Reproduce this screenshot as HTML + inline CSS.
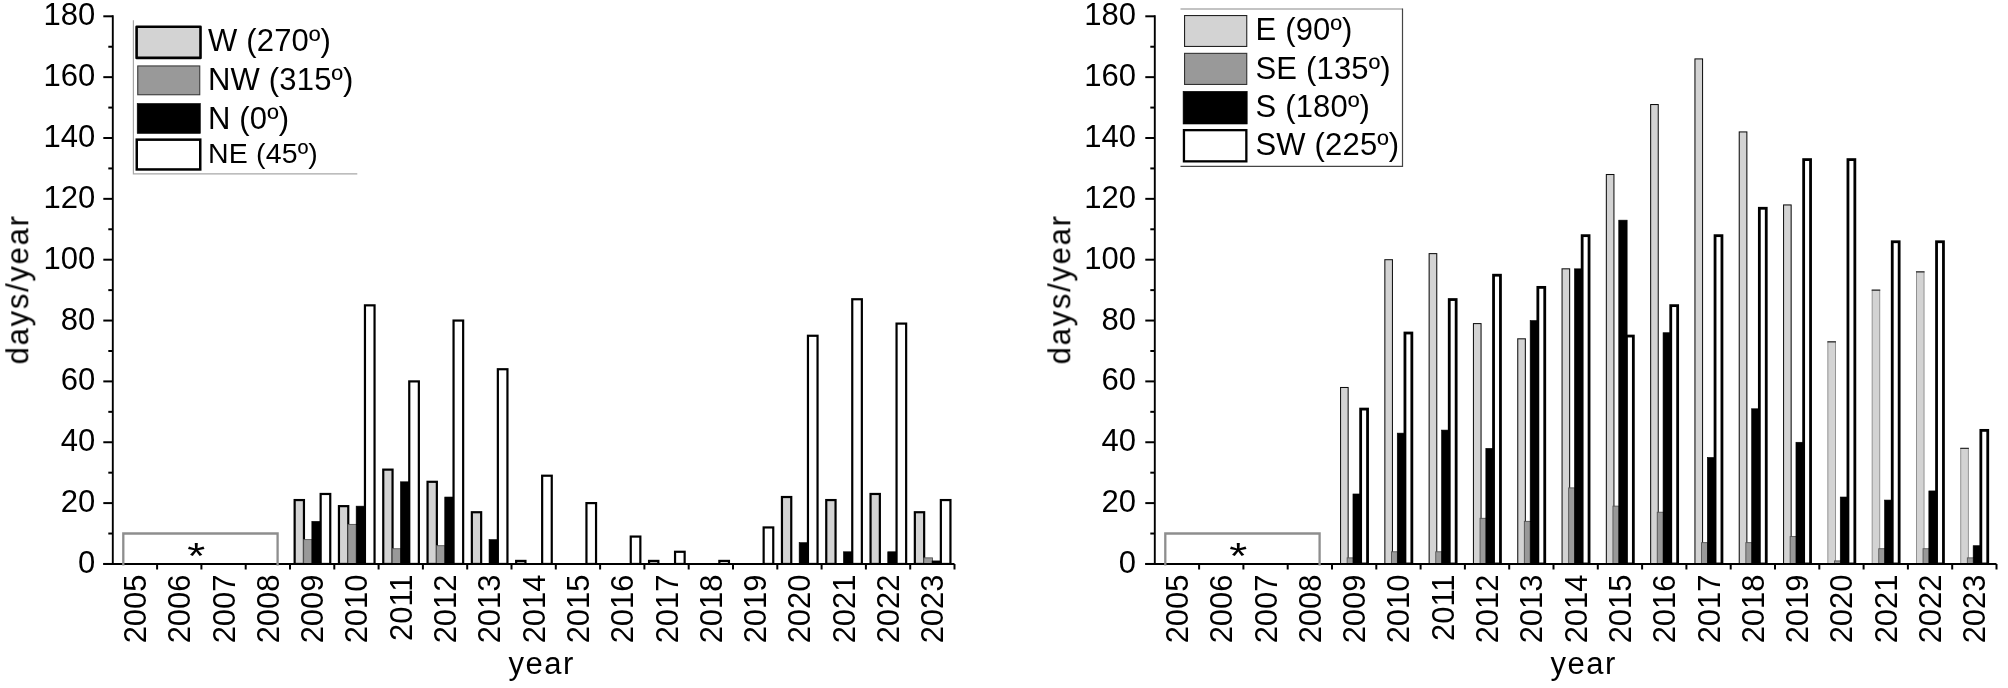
<!DOCTYPE html>
<html lang="en">
<head>
<meta charset="utf-8">
<title>days/year by wind direction</title>
<style>
html,body{margin:0;padding:0;background:#fff;}
body{width:2008px;height:688px;overflow:hidden;}
svg{display:block;}
svg text{font-family:"Liberation Sans", Arial, sans-serif;fill:#000;}
</style>
</head>
<body>
<svg width="2008" height="688" viewBox="0 0 2008 688">
<defs><filter id="soft" x="0" y="0" width="2008" height="688" filterUnits="userSpaceOnUse"><feGaussianBlur stdDeviation="0.35"/></filter><clipPath id="plot"><rect x="0" y="0" width="2008" height="564.85"/></clipPath></defs>
<rect width="2008" height="688" fill="#fff"/>
<g filter="url(#soft)">
<g clip-path="url(#plot)">
<rect x="294.65" y="500.06" width="9.30" height="63.89" fill="#d3d3d3" stroke="#000" stroke-width="2.2"/>
<rect x="303.65" y="539.61" width="8.70" height="24.34" fill="#999999" stroke="#555" stroke-width="0.9"/>
<rect x="311.85" y="521.36" width="9.40" height="42.59" fill="#000" stroke="#000" stroke-width="0.6"/>
<rect x="320.65" y="493.97" width="9.60" height="69.98" fill="#fff" stroke="#000" stroke-width="2.2"/>
<rect x="338.95" y="506.14" width="9.30" height="57.81" fill="#d3d3d3" stroke="#000" stroke-width="2.2"/>
<rect x="347.95" y="524.40" width="8.70" height="39.55" fill="#999999" stroke="#555" stroke-width="0.9"/>
<rect x="356.15" y="506.14" width="9.40" height="57.81" fill="#000" stroke="#000" stroke-width="0.6"/>
<rect x="364.95" y="305.34" width="9.60" height="258.61" fill="#fff" stroke="#000" stroke-width="2.2"/>
<rect x="383.25" y="469.63" width="9.30" height="94.32" fill="#d3d3d3" stroke="#000" stroke-width="2.2"/>
<rect x="392.25" y="548.74" width="8.70" height="15.21" fill="#999999" stroke="#555" stroke-width="0.9"/>
<rect x="400.45" y="481.80" width="9.40" height="82.15" fill="#000" stroke="#000" stroke-width="0.6"/>
<rect x="409.25" y="381.40" width="9.60" height="182.55" fill="#fff" stroke="#000" stroke-width="2.2"/>
<rect x="427.55" y="481.80" width="9.30" height="82.15" fill="#d3d3d3" stroke="#000" stroke-width="2.2"/>
<rect x="436.55" y="545.70" width="8.70" height="18.25" fill="#999999" stroke="#555" stroke-width="0.9"/>
<rect x="444.75" y="497.02" width="9.40" height="66.94" fill="#000" stroke="#000" stroke-width="0.6"/>
<rect x="453.55" y="320.55" width="9.60" height="243.40" fill="#fff" stroke="#000" stroke-width="2.2"/>
<rect x="471.85" y="512.23" width="9.30" height="51.72" fill="#d3d3d3" stroke="#000" stroke-width="2.2"/>
<rect x="489.05" y="539.61" width="9.40" height="24.34" fill="#000" stroke="#000" stroke-width="0.6"/>
<rect x="497.85" y="369.23" width="9.60" height="194.72" fill="#fff" stroke="#000" stroke-width="2.2"/>
<rect x="516.15" y="560.91" width="9.30" height="3.04" fill="#d3d3d3" stroke="#000" stroke-width="2.2"/>
<rect x="542.15" y="475.72" width="9.60" height="88.23" fill="#fff" stroke="#000" stroke-width="2.2"/>
<rect x="586.45" y="503.10" width="9.60" height="60.85" fill="#fff" stroke="#000" stroke-width="2.2"/>
<rect x="630.75" y="536.57" width="9.60" height="27.38" fill="#fff" stroke="#000" stroke-width="2.2"/>
<rect x="649.05" y="560.91" width="9.30" height="3.04" fill="#d3d3d3" stroke="#000" stroke-width="2.2"/>
<rect x="675.05" y="551.78" width="9.60" height="12.17" fill="#fff" stroke="#000" stroke-width="2.2"/>
<rect x="719.35" y="560.91" width="9.60" height="3.04" fill="#fff" stroke="#000" stroke-width="2.2"/>
<rect x="763.65" y="527.44" width="9.60" height="36.51" fill="#fff" stroke="#000" stroke-width="2.2"/>
<rect x="781.95" y="497.02" width="9.30" height="66.94" fill="#d3d3d3" stroke="#000" stroke-width="2.2"/>
<rect x="799.15" y="542.65" width="9.40" height="21.30" fill="#000" stroke="#000" stroke-width="0.6"/>
<rect x="807.95" y="335.76" width="9.60" height="228.19" fill="#fff" stroke="#000" stroke-width="2.2"/>
<rect x="826.25" y="500.06" width="9.30" height="63.89" fill="#d3d3d3" stroke="#000" stroke-width="2.2"/>
<rect x="843.45" y="551.78" width="9.40" height="12.17" fill="#000" stroke="#000" stroke-width="0.6"/>
<rect x="852.25" y="299.25" width="9.60" height="264.70" fill="#fff" stroke="#000" stroke-width="2.2"/>
<rect x="870.55" y="493.97" width="9.30" height="69.98" fill="#d3d3d3" stroke="#000" stroke-width="2.2"/>
<rect x="887.75" y="551.78" width="9.40" height="12.17" fill="#000" stroke="#000" stroke-width="0.6"/>
<rect x="896.55" y="323.59" width="9.60" height="240.36" fill="#fff" stroke="#000" stroke-width="2.2"/>
<rect x="914.85" y="512.23" width="9.30" height="51.72" fill="#d3d3d3" stroke="#000" stroke-width="2.2"/>
<rect x="923.85" y="557.87" width="8.70" height="6.08" fill="#999999" stroke="#555" stroke-width="0.9"/>
<rect x="932.05" y="560.91" width="9.40" height="3.04" fill="#000" stroke="#000" stroke-width="0.6"/>
<rect x="940.85" y="500.06" width="9.60" height="63.89" fill="#fff" stroke="#000" stroke-width="2.2"/>
</g>
<text transform="translate(196.2 569.0) scale(1.1 0.9)" font-size="42" text-anchor="middle">*</text>
<path d="M112.8 15.3V564.0" stroke="#000" stroke-width="1.9" fill="none"/>
<path d="M103.3 564.0H954.5" stroke="#000" stroke-width="2" fill="none"/>
<path d="M123.3 565.6V533.5H277.6V565.6" fill="none" stroke="#8e8e8e" stroke-width="2.3"/>
<path d="M103.3 563.95H112.8" stroke="#000" stroke-width="2"/>
<text x="95.3" y="573.00" font-size="31" text-anchor="end">0</text>
<path d="M108.3 533.53H112.8" stroke="#000" stroke-width="2"/>
<path d="M103.3 503.10H112.8" stroke="#000" stroke-width="2"/>
<text x="95.3" y="512.15" font-size="31" text-anchor="end">20</text>
<path d="M108.3 472.68H112.8" stroke="#000" stroke-width="2"/>
<path d="M103.3 442.25H112.8" stroke="#000" stroke-width="2"/>
<text x="95.3" y="451.30" font-size="31" text-anchor="end">40</text>
<path d="M108.3 411.83H112.8" stroke="#000" stroke-width="2"/>
<path d="M103.3 381.40H112.8" stroke="#000" stroke-width="2"/>
<text x="95.3" y="390.45" font-size="31" text-anchor="end">60</text>
<path d="M108.3 350.98H112.8" stroke="#000" stroke-width="2"/>
<path d="M103.3 320.55H112.8" stroke="#000" stroke-width="2"/>
<text x="95.3" y="329.60" font-size="31" text-anchor="end">80</text>
<path d="M108.3 290.13H112.8" stroke="#000" stroke-width="2"/>
<path d="M103.3 259.70H112.8" stroke="#000" stroke-width="2"/>
<text x="95.3" y="268.75" font-size="31" text-anchor="end">100</text>
<path d="M108.3 229.28H112.8" stroke="#000" stroke-width="2"/>
<path d="M103.3 198.85H112.8" stroke="#000" stroke-width="2"/>
<text x="95.3" y="207.90" font-size="31" text-anchor="end">120</text>
<path d="M108.3 168.43H112.8" stroke="#000" stroke-width="2"/>
<path d="M103.3 138.00H112.8" stroke="#000" stroke-width="2"/>
<text x="95.3" y="147.05" font-size="31" text-anchor="end">140</text>
<path d="M108.3 107.58H112.8" stroke="#000" stroke-width="2"/>
<path d="M103.3 77.15H112.8" stroke="#000" stroke-width="2"/>
<text x="95.3" y="86.20" font-size="31" text-anchor="end">160</text>
<path d="M108.3 46.73H112.8" stroke="#000" stroke-width="2"/>
<path d="M103.3 16.30H112.8" stroke="#000" stroke-width="2"/>
<text x="95.3" y="25.35" font-size="31" text-anchor="end">180</text>
<path d="M157.10 564.0V569.5" stroke="#000" stroke-width="2"/>
<path d="M201.40 564.0V569.5" stroke="#000" stroke-width="2"/>
<path d="M245.70 564.0V569.5" stroke="#000" stroke-width="2"/>
<path d="M290.00 564.0V569.5" stroke="#000" stroke-width="2"/>
<path d="M334.30 564.0V569.5" stroke="#000" stroke-width="2"/>
<path d="M378.60 564.0V569.5" stroke="#000" stroke-width="2"/>
<path d="M422.90 564.0V569.5" stroke="#000" stroke-width="2"/>
<path d="M467.20 564.0V569.5" stroke="#000" stroke-width="2"/>
<path d="M511.50 564.0V569.5" stroke="#000" stroke-width="2"/>
<path d="M555.80 564.0V569.5" stroke="#000" stroke-width="2"/>
<path d="M600.10 564.0V569.5" stroke="#000" stroke-width="2"/>
<path d="M644.40 564.0V569.5" stroke="#000" stroke-width="2"/>
<path d="M688.70 564.0V569.5" stroke="#000" stroke-width="2"/>
<path d="M733.00 564.0V569.5" stroke="#000" stroke-width="2"/>
<path d="M777.30 564.0V569.5" stroke="#000" stroke-width="2"/>
<path d="M821.60 564.0V569.5" stroke="#000" stroke-width="2"/>
<path d="M865.90 564.0V569.5" stroke="#000" stroke-width="2"/>
<path d="M910.20 564.0V569.5" stroke="#000" stroke-width="2"/>
<path d="M954.50 564.0V569.5" stroke="#000" stroke-width="2"/>
<text transform="translate(145.95 574.4) rotate(-90)" font-size="31" text-anchor="end">2005</text>
<text transform="translate(190.25 574.4) rotate(-90)" font-size="31" text-anchor="end">2006</text>
<text transform="translate(234.55 574.4) rotate(-90)" font-size="31" text-anchor="end">2007</text>
<text transform="translate(278.85 574.4) rotate(-90)" font-size="31" text-anchor="end">2008</text>
<text transform="translate(323.15 574.4) rotate(-90)" font-size="31" text-anchor="end">2009</text>
<text transform="translate(367.45 574.4) rotate(-90)" font-size="31" text-anchor="end">2010</text>
<text transform="translate(411.75 574.4) rotate(-90)" font-size="31" text-anchor="end">2011</text>
<text transform="translate(456.05 574.4) rotate(-90)" font-size="31" text-anchor="end">2012</text>
<text transform="translate(500.35 574.4) rotate(-90)" font-size="31" text-anchor="end">2013</text>
<text transform="translate(544.65 574.4) rotate(-90)" font-size="31" text-anchor="end">2014</text>
<text transform="translate(588.95 574.4) rotate(-90)" font-size="31" text-anchor="end">2015</text>
<text transform="translate(633.25 574.4) rotate(-90)" font-size="31" text-anchor="end">2016</text>
<text transform="translate(677.55 574.4) rotate(-90)" font-size="31" text-anchor="end">2017</text>
<text transform="translate(721.85 574.4) rotate(-90)" font-size="31" text-anchor="end">2018</text>
<text transform="translate(766.15 574.4) rotate(-90)" font-size="31" text-anchor="end">2019</text>
<text transform="translate(810.45 574.4) rotate(-90)" font-size="31" text-anchor="end">2020</text>
<text transform="translate(854.75 574.4) rotate(-90)" font-size="31" text-anchor="end">2021</text>
<text transform="translate(899.05 574.4) rotate(-90)" font-size="31" text-anchor="end">2022</text>
<text transform="translate(943.35 574.4) rotate(-90)" font-size="31" text-anchor="end">2023</text>
<text transform="translate(28.3 289.4) rotate(-90)" font-size="31" text-anchor="middle" letter-spacing="1.76">days/year</text>
<text x="541.6" y="674" font-size="31" text-anchor="middle" letter-spacing="1.5">year</text>
<path d="M133.4 20.3V173.8H357.3" fill="none" stroke="#a8a8a8" stroke-width="1.2"/>
<rect x="136.60" y="26.70" width="63.90" height="31.20" fill="#d3d3d3" stroke="#000" stroke-width="2.6" stroke-linejoin="round"/>
<text x="208" y="50.6" font-size="31" letter-spacing="0.18">W (270º)</text>
<rect x="137.75" y="65.95" width="62.00" height="28.80" fill="#999999" stroke="#3a3a3a" stroke-width="1.1" stroke-linejoin="miter"/>
<text x="208" y="89.5" font-size="31" letter-spacing="0.18">NW (315º)</text>
<rect x="137.20" y="103.50" width="63.10" height="29.90" fill="#000" stroke="#000" stroke-width="0.6" stroke-linejoin="miter"/>
<text x="208" y="128.6" font-size="31" letter-spacing="0.18">N (0º)</text>
<rect x="136.75" y="139.65" width="63.50" height="29.80" fill="#fff" stroke="#000" stroke-width="2.5" stroke-linejoin="miter"/>
<text x="208" y="163.2" font-size="28.5" letter-spacing="0.18">NE (45º)</text>
<g clip-path="url(#plot)">
<rect x="1340.55" y="387.49" width="7.60" height="176.47" fill="#d3d3d3" stroke="#111" stroke-width="1.05"/>
<rect x="1347.15" y="557.87" width="6.50" height="6.08" fill="#999999" stroke="#555" stroke-width="0.9"/>
<rect x="1352.95" y="493.97" width="8.40" height="69.98" fill="#000" stroke="#000" stroke-width="0.6"/>
<rect x="1360.65" y="409.08" width="6.90" height="154.87" fill="#fff" stroke="#000" stroke-width="2.8"/>
<rect x="1384.85" y="259.70" width="7.60" height="304.25" fill="#d3d3d3" stroke="#111" stroke-width="1.05"/>
<rect x="1391.45" y="551.78" width="6.50" height="12.17" fill="#999999" stroke="#555" stroke-width="0.9"/>
<rect x="1397.25" y="433.12" width="8.40" height="130.83" fill="#000" stroke="#000" stroke-width="0.6"/>
<rect x="1404.95" y="333.02" width="6.90" height="230.93" fill="#fff" stroke="#000" stroke-width="2.8"/>
<rect x="1429.15" y="253.62" width="7.60" height="310.33" fill="#d3d3d3" stroke="#111" stroke-width="1.05"/>
<rect x="1435.75" y="551.78" width="6.50" height="12.17" fill="#999999" stroke="#555" stroke-width="0.9"/>
<rect x="1441.55" y="430.08" width="8.40" height="133.87" fill="#000" stroke="#000" stroke-width="0.6"/>
<rect x="1449.25" y="299.55" width="6.90" height="264.40" fill="#fff" stroke="#000" stroke-width="2.8"/>
<rect x="1473.45" y="323.59" width="7.60" height="240.36" fill="#d3d3d3" stroke="#111" stroke-width="1.05"/>
<rect x="1480.05" y="518.31" width="6.50" height="45.64" fill="#999999" stroke="#555" stroke-width="0.9"/>
<rect x="1485.85" y="448.34" width="8.40" height="115.61" fill="#000" stroke="#000" stroke-width="0.6"/>
<rect x="1493.55" y="275.21" width="6.90" height="288.74" fill="#fff" stroke="#000" stroke-width="2.8"/>
<rect x="1517.75" y="338.81" width="7.60" height="225.15" fill="#d3d3d3" stroke="#111" stroke-width="1.05"/>
<rect x="1524.35" y="521.36" width="6.50" height="42.59" fill="#999999" stroke="#555" stroke-width="0.9"/>
<rect x="1530.15" y="320.55" width="8.40" height="243.40" fill="#000" stroke="#000" stroke-width="0.6"/>
<rect x="1537.85" y="287.38" width="6.90" height="276.57" fill="#fff" stroke="#000" stroke-width="2.8"/>
<rect x="1562.05" y="268.83" width="7.60" height="295.12" fill="#d3d3d3" stroke="#111" stroke-width="1.05"/>
<rect x="1568.65" y="487.89" width="6.50" height="76.06" fill="#999999" stroke="#555" stroke-width="0.9"/>
<rect x="1574.45" y="268.83" width="8.40" height="295.12" fill="#000" stroke="#000" stroke-width="0.6"/>
<rect x="1582.15" y="235.66" width="6.90" height="328.29" fill="#fff" stroke="#000" stroke-width="2.8"/>
<rect x="1606.35" y="174.51" width="7.60" height="389.44" fill="#d3d3d3" stroke="#111" stroke-width="1.05"/>
<rect x="1612.95" y="506.14" width="6.50" height="57.81" fill="#999999" stroke="#555" stroke-width="0.9"/>
<rect x="1618.75" y="220.15" width="8.40" height="343.80" fill="#000" stroke="#000" stroke-width="0.6"/>
<rect x="1626.45" y="336.06" width="6.90" height="227.89" fill="#fff" stroke="#000" stroke-width="2.8"/>
<rect x="1650.65" y="104.53" width="7.60" height="459.42" fill="#d3d3d3" stroke="#111" stroke-width="1.05"/>
<rect x="1657.25" y="512.23" width="6.50" height="51.72" fill="#999999" stroke="#555" stroke-width="0.9"/>
<rect x="1663.05" y="332.72" width="8.40" height="231.23" fill="#000" stroke="#000" stroke-width="0.6"/>
<rect x="1670.75" y="305.64" width="6.90" height="258.31" fill="#fff" stroke="#000" stroke-width="2.8"/>
<rect x="1694.95" y="58.90" width="7.60" height="505.06" fill="#d3d3d3" stroke="#111" stroke-width="1.05"/>
<rect x="1701.55" y="542.65" width="6.50" height="21.30" fill="#999999" stroke="#555" stroke-width="0.9"/>
<rect x="1707.35" y="457.46" width="8.40" height="106.49" fill="#000" stroke="#000" stroke-width="0.6"/>
<rect x="1715.05" y="235.66" width="6.90" height="328.29" fill="#fff" stroke="#000" stroke-width="2.8"/>
<rect x="1739.25" y="131.92" width="7.60" height="432.04" fill="#d3d3d3" stroke="#111" stroke-width="1.05"/>
<rect x="1745.85" y="542.65" width="6.50" height="21.30" fill="#999999" stroke="#555" stroke-width="0.9"/>
<rect x="1751.65" y="408.78" width="8.40" height="155.17" fill="#000" stroke="#000" stroke-width="0.6"/>
<rect x="1759.35" y="208.28" width="6.90" height="355.67" fill="#fff" stroke="#000" stroke-width="2.8"/>
<rect x="1783.55" y="204.94" width="7.60" height="359.01" fill="#d3d3d3" stroke="#111" stroke-width="1.05"/>
<rect x="1790.15" y="536.57" width="6.50" height="27.38" fill="#999999" stroke="#555" stroke-width="0.9"/>
<rect x="1795.95" y="442.25" width="8.40" height="121.70" fill="#000" stroke="#000" stroke-width="0.6"/>
<rect x="1803.65" y="159.60" width="6.90" height="404.35" fill="#fff" stroke="#000" stroke-width="2.8"/>
<rect x="1827.85" y="341.85" width="7.60" height="222.10" fill="#d3d3d3" stroke="#8a8a8a" stroke-width="0.9"/>
<path d="M1827.35 341.85h8.60" stroke="#222" stroke-width="1.1"/>
<rect x="1834.45" y="560.91" width="6.50" height="3.04" fill="#999999" stroke="#555" stroke-width="0.9"/>
<rect x="1840.25" y="497.02" width="8.40" height="66.94" fill="#000" stroke="#000" stroke-width="0.6"/>
<rect x="1847.95" y="159.60" width="6.90" height="404.35" fill="#fff" stroke="#000" stroke-width="2.8"/>
<rect x="1872.15" y="290.13" width="7.60" height="273.82" fill="#d3d3d3" stroke="#8a8a8a" stroke-width="0.9"/>
<path d="M1871.65 290.13h8.60" stroke="#222" stroke-width="1.1"/>
<rect x="1878.75" y="548.74" width="6.50" height="15.21" fill="#999999" stroke="#555" stroke-width="0.9"/>
<rect x="1884.55" y="500.06" width="8.40" height="63.89" fill="#000" stroke="#000" stroke-width="0.6"/>
<rect x="1892.25" y="241.75" width="6.90" height="322.20" fill="#fff" stroke="#000" stroke-width="2.8"/>
<rect x="1916.45" y="271.87" width="7.60" height="292.08" fill="#d3d3d3" stroke="#8a8a8a" stroke-width="0.9"/>
<path d="M1915.95 271.87h8.60" stroke="#222" stroke-width="1.1"/>
<rect x="1923.05" y="548.74" width="6.50" height="15.21" fill="#999999" stroke="#555" stroke-width="0.9"/>
<rect x="1928.85" y="490.93" width="8.40" height="73.02" fill="#000" stroke="#000" stroke-width="0.6"/>
<rect x="1936.55" y="241.75" width="6.90" height="322.20" fill="#fff" stroke="#000" stroke-width="2.8"/>
<rect x="1960.75" y="448.34" width="7.60" height="115.61" fill="#d3d3d3" stroke="#8a8a8a" stroke-width="0.9"/>
<path d="M1960.25 448.34h8.60" stroke="#222" stroke-width="1.1"/>
<rect x="1967.35" y="557.87" width="6.50" height="6.08" fill="#999999" stroke="#555" stroke-width="0.9"/>
<rect x="1973.15" y="545.70" width="8.40" height="18.25" fill="#000" stroke="#000" stroke-width="0.6"/>
<rect x="1980.85" y="430.38" width="6.90" height="133.57" fill="#fff" stroke="#000" stroke-width="2.8"/>
</g>
<text transform="translate(1238.2 569.0) scale(1.1 0.9)" font-size="42" text-anchor="middle">*</text>
<path d="M1154.8 15.3V564.0" stroke="#000" stroke-width="1.9" fill="none"/>
<path d="M1145.3 564.0H1996.5" stroke="#000" stroke-width="2" fill="none"/>
<path d="M1165.3 565.6V533.5H1319.6V565.6" fill="none" stroke="#8e8e8e" stroke-width="2.3"/>
<path d="M1145.3 563.95H1154.8" stroke="#000" stroke-width="2"/>
<text x="1136.1" y="573.00" font-size="31" text-anchor="end">0</text>
<path d="M1150.3 533.53H1154.8" stroke="#000" stroke-width="2"/>
<path d="M1145.3 503.10H1154.8" stroke="#000" stroke-width="2"/>
<text x="1136.1" y="512.15" font-size="31" text-anchor="end">20</text>
<path d="M1150.3 472.68H1154.8" stroke="#000" stroke-width="2"/>
<path d="M1145.3 442.25H1154.8" stroke="#000" stroke-width="2"/>
<text x="1136.1" y="451.30" font-size="31" text-anchor="end">40</text>
<path d="M1150.3 411.83H1154.8" stroke="#000" stroke-width="2"/>
<path d="M1145.3 381.40H1154.8" stroke="#000" stroke-width="2"/>
<text x="1136.1" y="390.45" font-size="31" text-anchor="end">60</text>
<path d="M1150.3 350.98H1154.8" stroke="#000" stroke-width="2"/>
<path d="M1145.3 320.55H1154.8" stroke="#000" stroke-width="2"/>
<text x="1136.1" y="329.60" font-size="31" text-anchor="end">80</text>
<path d="M1150.3 290.13H1154.8" stroke="#000" stroke-width="2"/>
<path d="M1145.3 259.70H1154.8" stroke="#000" stroke-width="2"/>
<text x="1136.1" y="268.75" font-size="31" text-anchor="end">100</text>
<path d="M1150.3 229.28H1154.8" stroke="#000" stroke-width="2"/>
<path d="M1145.3 198.85H1154.8" stroke="#000" stroke-width="2"/>
<text x="1136.1" y="207.90" font-size="31" text-anchor="end">120</text>
<path d="M1150.3 168.43H1154.8" stroke="#000" stroke-width="2"/>
<path d="M1145.3 138.00H1154.8" stroke="#000" stroke-width="2"/>
<text x="1136.1" y="147.05" font-size="31" text-anchor="end">140</text>
<path d="M1150.3 107.58H1154.8" stroke="#000" stroke-width="2"/>
<path d="M1145.3 77.15H1154.8" stroke="#000" stroke-width="2"/>
<text x="1136.1" y="86.20" font-size="31" text-anchor="end">160</text>
<path d="M1150.3 46.73H1154.8" stroke="#000" stroke-width="2"/>
<path d="M1145.3 16.30H1154.8" stroke="#000" stroke-width="2"/>
<text x="1136.1" y="25.35" font-size="31" text-anchor="end">180</text>
<path d="M1199.10 564.0V569.5" stroke="#000" stroke-width="2"/>
<path d="M1243.40 564.0V569.5" stroke="#000" stroke-width="2"/>
<path d="M1287.70 564.0V569.5" stroke="#000" stroke-width="2"/>
<path d="M1332.00 564.0V569.5" stroke="#000" stroke-width="2"/>
<path d="M1376.30 564.0V569.5" stroke="#000" stroke-width="2"/>
<path d="M1420.60 564.0V569.5" stroke="#000" stroke-width="2"/>
<path d="M1464.90 564.0V569.5" stroke="#000" stroke-width="2"/>
<path d="M1509.20 564.0V569.5" stroke="#000" stroke-width="2"/>
<path d="M1553.50 564.0V569.5" stroke="#000" stroke-width="2"/>
<path d="M1597.80 564.0V569.5" stroke="#000" stroke-width="2"/>
<path d="M1642.10 564.0V569.5" stroke="#000" stroke-width="2"/>
<path d="M1686.40 564.0V569.5" stroke="#000" stroke-width="2"/>
<path d="M1730.70 564.0V569.5" stroke="#000" stroke-width="2"/>
<path d="M1775.00 564.0V569.5" stroke="#000" stroke-width="2"/>
<path d="M1819.30 564.0V569.5" stroke="#000" stroke-width="2"/>
<path d="M1863.60 564.0V569.5" stroke="#000" stroke-width="2"/>
<path d="M1907.90 564.0V569.5" stroke="#000" stroke-width="2"/>
<path d="M1952.20 564.0V569.5" stroke="#000" stroke-width="2"/>
<path d="M1996.50 564.0V569.5" stroke="#000" stroke-width="2"/>
<text transform="translate(1187.95 574.4) rotate(-90)" font-size="31" text-anchor="end">2005</text>
<text transform="translate(1232.25 574.4) rotate(-90)" font-size="31" text-anchor="end">2006</text>
<text transform="translate(1276.55 574.4) rotate(-90)" font-size="31" text-anchor="end">2007</text>
<text transform="translate(1320.85 574.4) rotate(-90)" font-size="31" text-anchor="end">2008</text>
<text transform="translate(1365.15 574.4) rotate(-90)" font-size="31" text-anchor="end">2009</text>
<text transform="translate(1409.45 574.4) rotate(-90)" font-size="31" text-anchor="end">2010</text>
<text transform="translate(1453.75 574.4) rotate(-90)" font-size="31" text-anchor="end">2011</text>
<text transform="translate(1498.05 574.4) rotate(-90)" font-size="31" text-anchor="end">2012</text>
<text transform="translate(1542.35 574.4) rotate(-90)" font-size="31" text-anchor="end">2013</text>
<text transform="translate(1586.65 574.4) rotate(-90)" font-size="31" text-anchor="end">2014</text>
<text transform="translate(1630.95 574.4) rotate(-90)" font-size="31" text-anchor="end">2015</text>
<text transform="translate(1675.25 574.4) rotate(-90)" font-size="31" text-anchor="end">2016</text>
<text transform="translate(1719.55 574.4) rotate(-90)" font-size="31" text-anchor="end">2017</text>
<text transform="translate(1763.85 574.4) rotate(-90)" font-size="31" text-anchor="end">2018</text>
<text transform="translate(1808.15 574.4) rotate(-90)" font-size="31" text-anchor="end">2019</text>
<text transform="translate(1852.45 574.4) rotate(-90)" font-size="31" text-anchor="end">2020</text>
<text transform="translate(1896.75 574.4) rotate(-90)" font-size="31" text-anchor="end">2021</text>
<text transform="translate(1941.05 574.4) rotate(-90)" font-size="31" text-anchor="end">2022</text>
<text transform="translate(1985.35 574.4) rotate(-90)" font-size="31" text-anchor="end">2023</text>
<text transform="translate(1070.3 289.4) rotate(-90)" font-size="31" text-anchor="middle" letter-spacing="1.76">days/year</text>
<text x="1583.6" y="674" font-size="31" text-anchor="middle" letter-spacing="1.5">year</text>
<path d="M1180.5 9H1402.5" fill="none" stroke="#888" stroke-width="1.2"/>
<path d="M1402.5 8.4V166.4H1180.5" fill="none" stroke="#444" stroke-width="1.2"/>
<rect x="1184.55" y="15.55" width="62.20" height="30.90" fill="#d3d3d3" stroke="#222" stroke-width="1.1" stroke-linejoin="miter"/>
<text x="1255.5" y="39.6" font-size="31" letter-spacing="0.18">E (90º)</text>
<rect x="1184.55" y="53.35" width="62.20" height="31.10" fill="#999999" stroke="#333" stroke-width="1.1" stroke-linejoin="miter"/>
<text x="1255.5" y="79.1" font-size="31" letter-spacing="0.18">SE (135º)</text>
<rect x="1183.10" y="91.30" width="64.10" height="32.70" fill="#000" stroke="#000" stroke-width="0.6" stroke-linejoin="miter"/>
<text x="1255.5" y="117.3" font-size="31" letter-spacing="0.18">S (180º)</text>
<rect x="1183.95" y="130.15" width="62.40" height="31.20" fill="#fff" stroke="#000" stroke-width="2.3" stroke-linejoin="miter"/>
<text x="1255.5" y="155.2" font-size="31" letter-spacing="0.18">SW (225º)</text>
</g>
</svg>
</body>
</html>
